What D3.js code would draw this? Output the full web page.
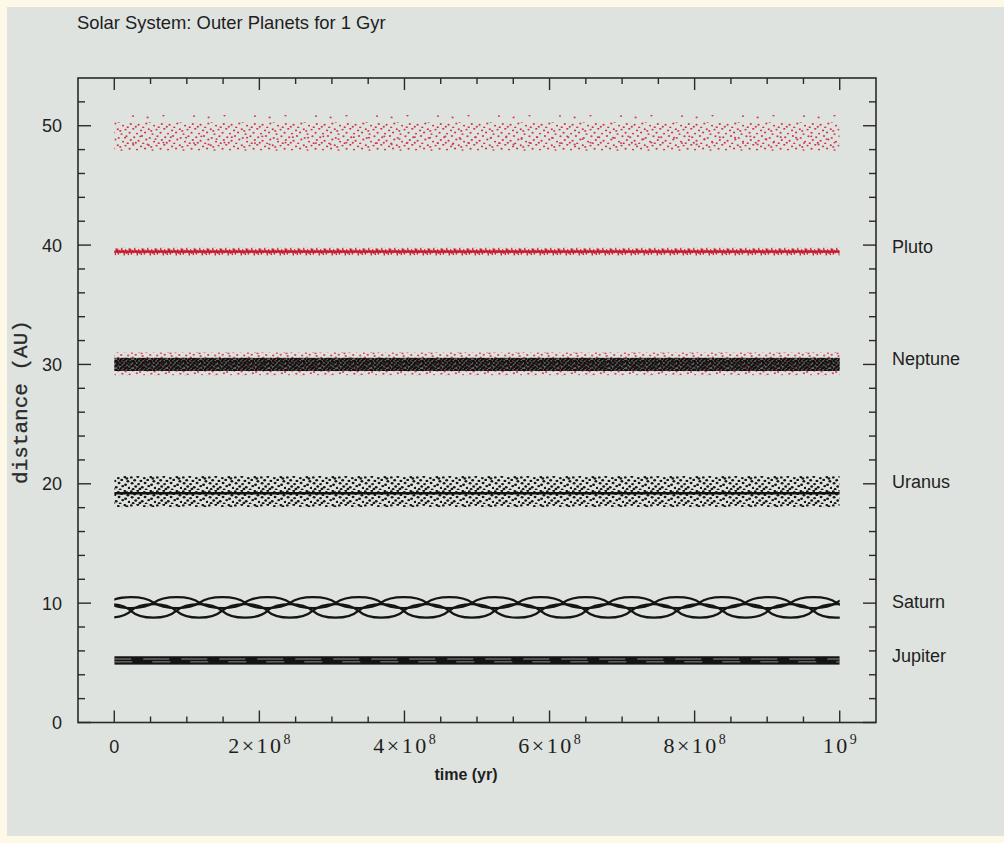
<!DOCTYPE html>
<html>
<head>
<meta charset="utf-8">
<script src="https://cdn.jsdelivr.net/npm/d3@7"></script>
<style>
  body { margin: 0; background: #fdf9e6; }
  #canvas { width: 1004px; height: 843px; }
</style>
</head>
<body>
<div id="canvas"></div>
<script>
// DATA (AU and years)
const planets = ["Jupiter", "Saturn", "Uranus", "Neptune", "Pluto"];
const labelAU = [5.6, 10.1, 20.2, 30.5, 39.9];
const timeSpan = [0, 1e9];

const xTicks = [0, 2e8, 4e8, 6e8, 8e8, 1e9];
const xTickBase = ["0", "2×10", "4×10", "6×10", "8×10", "10"];
const xTickExp = ["", "8", "8", "8", "8", "9"];
const yTicks = [0, 10, 20, 30, 40, 50];

const jupiterBand = [4.85, 5.55];
const jupiterStreaks = [5.08, 5.32];

const saturnUpperRow = [9.58, 10.5];
const saturnLowerRow = [8.78, 9.92];
const saturnUpperLensT = [2.3e7, 8.6e7, 1.49e8, 2.11e8, 2.74e8, 3.37e8, 3.99e8, 4.62e8,
  5.25e8, 5.88e8, 6.50e8, 7.13e8, 7.76e8, 8.38e8, 9.01e8, 9.64e8, 10.27e8];
const saturnLowerLensT = [-0.8e7, 5.4e7, 1.17e8, 1.80e8, 2.42e8, 3.05e8, 3.68e8, 4.30e8,
  4.93e8, 5.56e8, 6.19e8, 6.81e8, 7.44e8, 8.07e8, 8.70e8, 9.32e8, 9.95e8];
const saturnLensHalfT = 3.13e7;

const uranusBand = [18.05, 20.65];
const uranusMean = 19.2;

const neptuneHalo = [29.1, 31.0];
const neptuneCore = [29.45, 30.55];

const plutoLine = [39.1, 39.8];
const plutoMean = 39.45;
const plutoAphelion = [47.9, 50.3];
const plutoAphHalo = [47.3, 50.9];

// DIMENSIONS
const width = 1004;
const height = 843;
const margin = { top: 78, right: 128, bottom: 120.5, left: 78 };

// CANVAS
const svg = d3.select("#canvas")
  .append("svg")
  .attr("width", width)
  .attr("height", height)
  .style("font-family", "'Liberation Sans', Arial, sans-serif");

svg.append("rect")
  .attr("x", 7).attr("y", 7)
  .attr("width", width - 7).attr("height", 829)
  .attr("fill", "#dee3df");

// SCALES
const x = d3.scaleLinear().domain([-5e7, 1.05e9]).range([margin.left, width - margin.right]);
const y = d3.scaleLinear().domain([0, 54]).range([height - margin.bottom, margin.top]);

const defs = svg.append("defs");

// stipple texture (unit tile offsets, style only)
const stipple = [[0.05,0.10],[0.30,0.05],[0.55,0.15],[0.80,0.08],[0.18,0.30],[0.42,0.35],
  [0.68,0.28],[0.92,0.38],[0.08,0.52],[0.33,0.58],[0.58,0.50],[0.83,0.62],[0.22,0.75],
  [0.47,0.80],[0.72,0.72],[0.97,0.85],[0.12,0.95],[0.38,0.92],[0.62,0.97],[0.88,0.18]];

function makePattern(id, w, h, r, color, n) {
  const p = defs.append("pattern")
    .attr("id", id)
    .attr("patternUnits", "userSpaceOnUse")
    .attr("width", w).attr("height", h);
  p.selectAll("ellipse")
    .data(stipple.slice(0, n))
    .join("ellipse")
    .attr("cx", d => d[0] * w)
    .attr("cy", d => d[1] * h)
    .attr("rx", r * 1.2)
    .attr("ry", r)
    .attr("fill", color);
}
makePattern("dotUranus", 26, 14, 1.2, "#141414", 20);
makePattern("dotNeptune", 17, 9, 1.3, "#111", 20);
makePattern("dotNeptuneRed", 29, 13, 1.0, "#d8485a", 20);
makePattern("dotPluto", 31, 16, 0.95, "#d23a4c", 20);
makePattern("dotPlutoHalo", 61, 27, 0.9, "#d23a4c", 7);

// wiggle texture for Pluto's inner line
const wh = y(plutoLine[0]) - y(plutoLine[1]);
const wig = defs.append("pattern")
  .attr("id", "wiggle")
  .attr("patternUnits", "userSpaceOnUse")
  .attr("y", y(plutoLine[1]))
  .attr("width", 13).attr("height", wh);
[[0.5, 0.15, 0.85], [2.5, 0.3, 0.7], [4.5, 0.05, 0.6], [6.5, 0.35, 0.95], [8.5, 0.2, 0.75], [10.5, 0.4, 0.9], [12, 0.1, 0.55]]
  .forEach(s => {
    wig.append("line")
      .attr("x1", s[0]).attr("x2", s[0] + 1)
      .attr("y1", s[1] * wh).attr("y2", s[2] * wh)
      .attr("stroke", "#c8182c").attr("stroke-width", 1.4);
  });

defs.append("clipPath").attr("id", "dataClip")
  .append("rect")
  .attr("x", x(timeSpan[0])).attr("y", 0)
  .attr("width", x(timeSpan[1]) - x(timeSpan[0])).attr("height", height);

const plot = svg.append("g").attr("clip-path", "url(#dataClip)");

function band(range, fill, opacity) {
  plot.append("rect")
    .attr("x", x(timeSpan[0]))
    .attr("width", x(timeSpan[1]) - x(timeSpan[0]))
    .attr("y", y(range[1]))
    .attr("height", y(range[0]) - y(range[1]))
    .attr("fill", fill)
    .attr("fill-opacity", opacity === undefined ? 1 : opacity);
}

// JUPITER
band(jupiterBand, "#141414");
jupiterStreaks.forEach((v, i) => {
  plot.append("line")
    .attr("x1", x(timeSpan[0])).attr("x2", x(timeSpan[1]))
    .attr("y1", y(v)).attr("y2", y(v))
    .attr("stroke", "#8a8e8b").attr("stroke-width", 1)
    .attr("stroke-dasharray", i ? "26 12" : "18 20")
    .attr("stroke-dashoffset", i * 9);
});

// SATURN (eye-shaped lenses)
function lens(t, row) {
  const p = d3.path();
  const mid = (row[0] + row[1]) / 2;
  const off = (y(row[1]) - y(mid)) * 4 / 3;
  const x0 = x(t - saturnLensHalfT), x1 = x(t + saturnLensHalfT);
  const w = x1 - x0;
  p.moveTo(x0, y(mid));
  p.bezierCurveTo(x0 + w * 0.22, y(mid) + off, x1 - w * 0.22, y(mid) + off, x1, y(mid));
  p.bezierCurveTo(x1 - w * 0.22, y(mid) - off, x0 + w * 0.22, y(mid) - off, x0, y(mid));
  return p.toString();
}
plot.selectAll("path.satU")
  .data(saturnUpperLensT)
  .join("path")
  .attr("class", "satU")
  .attr("d", d => lens(d, saturnUpperRow))
  .attr("fill", "none").attr("stroke", "#151515").attr("stroke-width", 2.2);
plot.selectAll("path.satL")
  .data(saturnLowerLensT)
  .join("path")
  .attr("class", "satL")
  .attr("d", d => lens(d, saturnLowerRow))
  .attr("fill", "none").attr("stroke", "#151515").attr("stroke-width", 2.2);

// URANUS
band(uranusBand, "url(#dotUranus)");
plot.append("line")
  .attr("x1", x(timeSpan[0])).attr("x2", x(timeSpan[1]))
  .attr("y1", y(uranusMean)).attr("y2", y(uranusMean))
  .attr("stroke", "#111").attr("stroke-width", 2.5);

// NEPTUNE (with Pluto perihelion in red)
band(neptuneHalo, "url(#dotNeptuneRed)");
band(neptuneCore, "#1a1212", 0.6);
band(neptuneCore, "url(#dotNeptune)");

// PLUTO
band(plutoLine, "url(#wiggle)");
plot.append("line")
  .attr("x1", x(timeSpan[0])).attr("x2", x(timeSpan[1]))
  .attr("y1", y(plutoMean)).attr("y2", y(plutoMean))
  .attr("stroke", "#c8182c").attr("stroke-width", 2.2);
band(plutoAphHalo, "url(#dotPlutoHalo)");
band(plutoAphelion, "url(#dotPluto)");

// FRAME AND TICKS
const frame = svg.append("g").attr("stroke", "#2a2a2a");
frame.append("rect")
  .attr("x", x.range()[0]).attr("y", y.range()[1])
  .attr("width", x.range()[1] - x.range()[0])
  .attr("height", y.range()[0] - y.range()[1])
  .attr("fill", "none").attr("stroke-width", 1.6);

const xMinor = d3.range(0, 1.05e9, 5e7);
const yMinor = d3.range(0, 54, 2);

frame.selectAll("line.xt")
  .data(xMinor)
  .join("line")
  .attr("class", "xt")
  .attr("x1", d => x(d)).attr("x2", d => x(d))
  .attr("y1", y.range()[0])
  .attr("y2", d => y.range()[0] - (d % 2e8 === 0 ? 12 : 6))
  .attr("stroke-width", 1.4);
frame.selectAll("line.xtt")
  .data(xMinor)
  .join("line")
  .attr("class", "xtt")
  .attr("x1", d => x(d)).attr("x2", d => x(d))
  .attr("y1", y.range()[1])
  .attr("y2", d => y.range()[1] + (d % 2e8 === 0 ? 12 : 6))
  .attr("stroke-width", 1.4);
frame.selectAll("line.yt")
  .data(yMinor)
  .join("line")
  .attr("class", "yt")
  .attr("y1", d => y(d)).attr("y2", d => y(d))
  .attr("x1", x.range()[0])
  .attr("x2", d => x.range()[0] + (d % 10 === 0 ? 13 : 7))
  .attr("stroke-width", 1.4);
frame.selectAll("line.ytr")
  .data(yMinor)
  .join("line")
  .attr("class", "ytr")
  .attr("y1", d => y(d)).attr("y2", d => y(d))
  .attr("x1", x.range()[1])
  .attr("x2", d => x.range()[1] - (d % 10 === 0 ? 13 : 7))
  .attr("stroke-width", 1.4);

// TICK LABELS
svg.selectAll("text.ylab")
  .data(yTicks)
  .join("text")
  .attr("class", "ylab")
  .attr("x", 62)
  .attr("y", d => y(d))
  .attr("dy", "0.36em")
  .attr("text-anchor", "end")
  .attr("font-size", 18)
  .attr("fill", "#1e1e1e")
  .text(d => d);

const xl = svg.selectAll("text.xlab")
  .data(xTicks)
  .join("text")
  .attr("class", "xlab")
  .attr("x", d => x(d))
  .attr("y", 753)
  .attr("text-anchor", "middle")
  .attr("fill", "#1e1e1e")
  .attr("font-family", (d, i) => i ? "'Liberation Serif', serif" : "'Liberation Sans', Arial, sans-serif")
  .attr("font-size", (d, i) => i ? 22 : 18);
xl.append("tspan")
  .attr("letter-spacing", (d, i) => i ? 2.5 : 0)
  .text((d, i) => xTickBase[i]);
xl.append("tspan")
  .attr("dy", -9)
  .attr("font-size", 14)
  .text((d, i) => xTickExp[i]);

// AXIS TITLES
svg.append("text")
  .attr("x", 77).attr("y", 29)
  .attr("font-size", 18.4)
  .attr("fill", "#1e1e1e")
  .text("Solar System: Outer Planets for 1 Gyr");

svg.append("text")
  .attr("transform", "translate(27,402) rotate(-90)")
  .attr("text-anchor", "middle")
  .attr("font-family", "'Liberation Mono', 'Courier New', monospace")
  .attr("font-size", 21)
  .attr("fill", "#2a2a2a")
  .attr("stroke", "#2a2a2a").attr("stroke-width", 0.3)
  .text("distance (AU)");

svg.append("text")
  .attr("x", 466).attr("y", 780)
  .attr("text-anchor", "middle")
  .attr("font-size", 16)
  .attr("font-weight", "bold")
  .attr("fill", "#1e1e1e")
  .text("time (yr)");

// PLANET LABELS
svg.selectAll("text.planet")
  .data(planets)
  .join("text")
  .attr("class", "planet")
  .attr("x", 892)
  .attr("y", (d, i) => y(labelAU[i]))
  .attr("dy", "0.36em")
  .attr("font-size", 18)
  .attr("fill", "#1e1e1e")
  .text(d => d);
</script>
</body>
</html>
